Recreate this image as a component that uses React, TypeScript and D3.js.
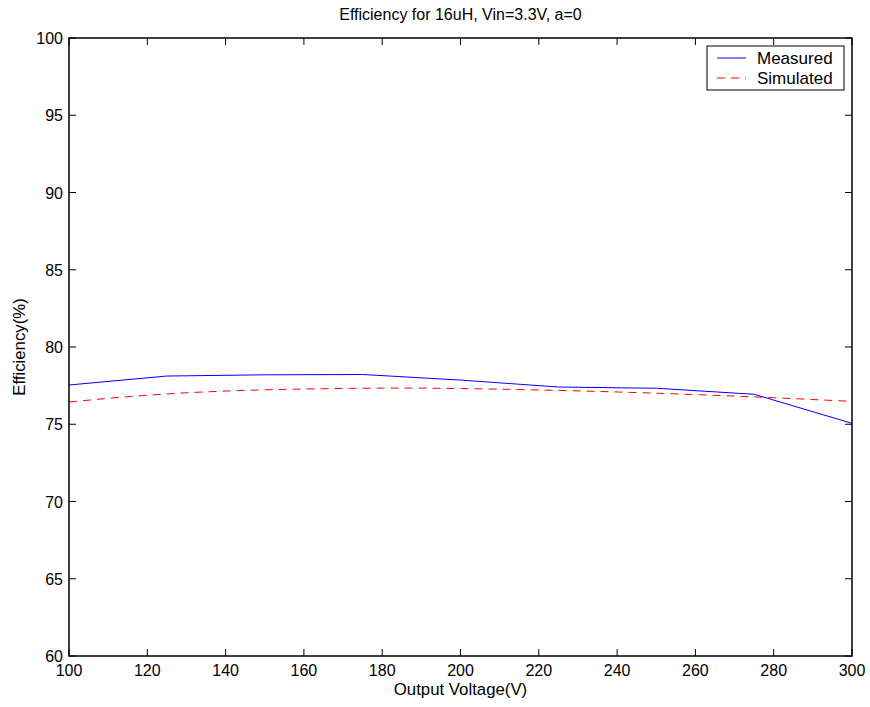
import React from "react";
import * as d3 from "d3";

const measuredX = [100, 125, 150, 175, 200, 225, 250, 275, 300];
const measuredY = [77.54, 78.12, 78.2, 78.22, 77.86, 77.41, 77.33, 76.94, 75.06];

const simulatedX = [100, 110, 120, 130, 140, 150, 160, 170, 180, 190, 200, 210, 220, 230, 240, 250, 260, 270, 280, 290, 300];
const simulatedY = [76.44, 76.68, 76.88, 77.04, 77.15, 77.23, 77.28, 77.32, 77.34, 77.34, 77.31, 77.27, 77.22, 77.16, 77.09, 77.01, 76.92, 76.82, 76.72, 76.6, 76.48];

const xTicks = [100, 120, 140, 160, 180, 200, 220, 240, 260, 280, 300];
const yTicks = [60, 65, 70, 75, 80, 85, 90, 95, 100];

const W = 870, H = 707;
const L = 69, R = 852, T = 38, B = 656;

export default function App() {
  const x = d3.scaleLinear().domain([100, 300]).range([L, R]);
  const y = d3.scaleLinear().domain([60, 100]).range([B, T]);
  const line = d3.line<[number, number]>().x(d => x(d[0])).y(d => y(d[1]));
  const mData = measuredX.map((v, i) => [v, measuredY[i]] as [number, number]);
  const sData = simulatedX.map((v, i) => [v, simulatedY[i]] as [number, number]);
  const font = "Liberation Sans, Arial, Helvetica, sans-serif";
  const tl = 7;
  return (
    <svg width={W} height={H} style={{ position: "absolute", left: 0, top: 0, background: "#fff" }} fontFamily={font}>
      <rect x={0} y={0} width={W} height={H} fill="#fff" />
      {xTicks.map(t => (
        <g key={"x" + t}>
          <line x1={x(t)} x2={x(t)} y1={B} y2={B - tl} stroke="#000" strokeWidth={1} />
          <line x1={x(t)} x2={x(t)} y1={T} y2={T + tl} stroke="#000" strokeWidth={1} />
          <text x={x(t)} y={676} fontSize={16} textAnchor="middle">{t}</text>
        </g>
      ))}
      {yTicks.map(t => (
        <g key={"y" + t}>
          <line x1={L} x2={L + tl} y1={y(t)} y2={y(t)} stroke="#000" strokeWidth={1} />
          <line x1={R} x2={R - tl} y1={y(t)} y2={y(t)} stroke="#000" strokeWidth={1} />
          <text x={63} y={y(t) + 6} fontSize={16} textAnchor="end">{t}</text>
        </g>
      ))}
      <path d={line(sData) || ""} fill="none" stroke="#ff0000" strokeWidth={1} strokeDasharray="8,6" />
      <path d={line(mData) || ""} fill="none" stroke="#0000ff" strokeWidth={1} />
      <rect x={L} y={T} width={R - L} height={B - T} fill="none" stroke="#000" strokeWidth={1.5} />
      <rect x={707} y={46} width={137} height={44} fill="#fff" stroke="#000" strokeWidth={1} />
      <line x1={717} x2={746} y1={58} y2={58} stroke="#0000ff" strokeWidth={1} />
      <line x1={717} x2={746} y1={78} y2={78} stroke="#ff0000" strokeWidth={1} strokeDasharray="8,6" />
      <text x={757} y={64} fontSize={17}>Measured</text>
      <text x={757} y={84} fontSize={17}>Simulated</text>
      <text x={(L + R) / 2} y={20} fontSize={16} textAnchor="middle">Efficiency for 16uH, Vin=3.3V, a=0</text>
      <text x={(L + R) / 2} y={695} fontSize={16.8} textAnchor="middle">Output Voltage(V)</text>
      <text transform={`translate(25,${(T + B) / 2}) rotate(-90)`} fontSize={16.8} textAnchor="middle">Efficiency(%)</text>
    </svg>
  );
}
